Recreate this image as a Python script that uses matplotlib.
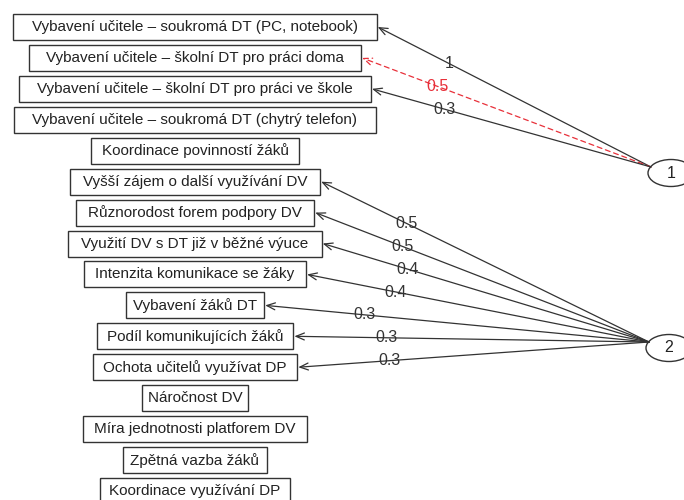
import matplotlib
matplotlib.use("Agg")
import matplotlib.pyplot as plt
from matplotlib.patches import Rectangle, Ellipse

items = [
    "Vybavení učitele – soukromá DT (PC, notebook)",
    "Vybavení učitele – školní DT pro práci doma",
    "Vybavení učitele – školní DT pro práci ve škole",
    "Vybavení učitele – soukromá DT (chytrý telefon)",
    "Koordinace povinností žáků",
    "Vyšší zájem o další využívání DV",
    "Různorodost forem podpory DV",
    "Využití DV s DT již v běžné výuce",
    "Intenzita komunikace se žáky",
    "Vybavení žáků DT",
    "Podíl komunikujících žáků",
    "Ochota učitelů využívat DP",
    "Náročnost DV",
    "Míra jednotnosti platforem DV",
    "Zpětná vazba žáků",
    "Koordinace využívání DP",
]
factors = ["1", "2"]
# edges: factor index, item index, loading label, negative?
edge_factor = [0, 0, 0, 1, 1, 1, 1, 1, 1, 1]
edge_item = [0, 1, 2, 5, 6, 7, 8, 9, 10, 11]
edge_label = ["1", "0.5", "0.3", "0.5", "0.5", "0.4", "0.4", "0.3", "0.3", "0.3"]
edge_negative = [False, True, False, False, False, False, False, False, False, False]

W, H = 684, 500
fig = plt.figure(figsize=(6.84, 5.0), dpi=100)
ax = fig.add_axes([0, 0, 1, 1])
ax.set_xlim(0, W)
ax.set_ylim(H, 0)
ax.axis("off")

FONT = "Liberation Sans"
FS = 11
LFS = 11.5
TXT = "#222222"

y0, dy = 27.0, 30.93
box_cx = 195.0
box_h = 26.0

texts = []
for i, name in enumerate(items):
    t = ax.text(box_cx, y0 + i * dy, name, ha="center", va="center",
                fontsize=FS, family=FONT, color=TXT, zorder=3)
    texts.append(t)

fig.canvas.draw()
renderer = fig.canvas.get_renderer()
right_edges = []
for i, t in enumerate(texts):
    bb = t.get_window_extent(renderer)
    tw = bb.width
    bw = tw * 1.115
    x0 = box_cx - bw / 2
    ax.add_patch(Rectangle((x0, y0 + i * dy - box_h / 2), bw, box_h,
                           fill=False, edgecolor="#333333", lw=1.0, zorder=2))
    right_edges.append(x0 + bw)

factor_cx = [671.0, 669.0]
factor_cy = [173.0, 348.0]
for f, lab in enumerate(factors):
    ax.add_patch(Ellipse((factor_cx[f], factor_cy[f]), 46, 27, fill=False,
                         edgecolor="#333333", lw=1.0, zorder=2))
    ax.text(factor_cx[f], factor_cy[f], lab, ha="center", va="center",
            fontsize=FS + 0.5, family=FONT, color=TXT, zorder=3)

for f, it, lab, neg in zip(edge_factor, edge_item, edge_label, edge_negative):
    sx, sy = factor_cx[f] - 20, factor_cy[f] - 6
    ex, ey = right_edges[it] + 1, y0 + it * dy
    col = "#e8303a" if neg else "#333333"
    ls = (0, (4, 3)) if neg else "-"
    ax.annotate("", xy=(ex, ey), xytext=(sx, sy),
                arrowprops=dict(arrowstyle="->,head_length=0.6,head_width=0.25",
                                color=col, lw=0.9, linestyle=ls,
                                shrinkA=0, shrinkB=0), zorder=1)
    tfrac = 0.26
    lx = ex + tfrac * (sx - ex)
    ly = ey + tfrac * (sy - ey)
    ax.text(lx, ly, lab, ha="center", va="center", fontsize=LFS,
            family=FONT, color=col, zorder=3)

fig.savefig("out.png", dpi=100, facecolor="white")
